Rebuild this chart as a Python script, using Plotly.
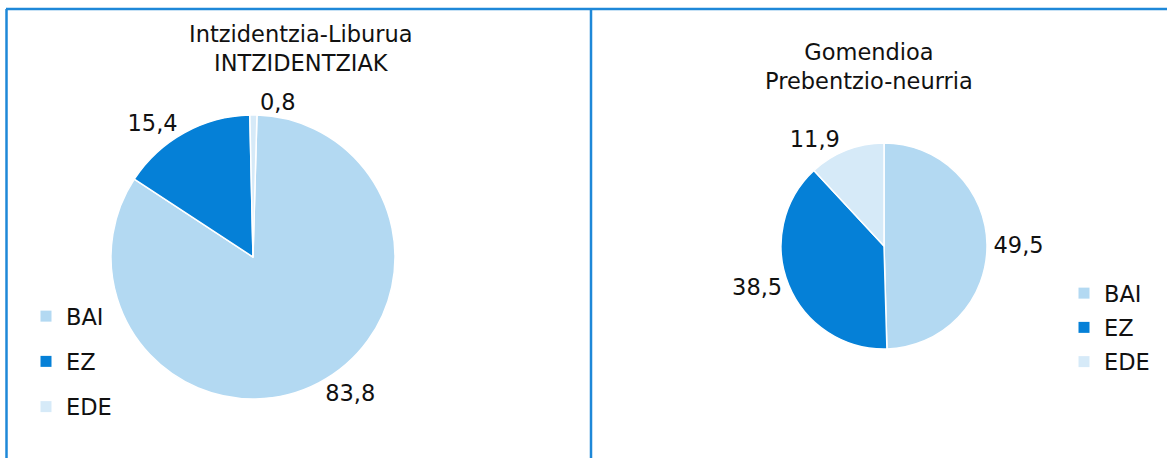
import plotly.graph_objects as go

W, H = 1167, 458

# data
labels = ['BAI', 'EZ', 'EDE']
colors = ['#b3d9f2', '#0580d7', '#d6eaf8']
left_title = ['Intzidentzia-Liburua', 'INTZIDENTZIAK']
left_values = [83.8, 15.4, 0.8]
right_title = ['Gomendioa', 'Prebentzio-neurria']
right_values = [49.5, 38.5, 11.9]

FONT = 'DejaVu Sans'
FS = 22.5
TXT = '#111111'


def px(x):
    return x / W


def py(y):
    return 1 - y / H


def pie(values, cx, cy, r, rot=0):
    return go.Pie(labels=labels, values=values, sort=False, direction='clockwise',
                  rotation=rot, marker=dict(colors=colors, line=dict(color='white', width=1.5)),
                  texttemplate='%{value:.1f}', textposition='outside',
                  textfont=dict(family=FONT, size=FS, color=TXT),
                  hoverinfo='label+value', showlegend=False,
                  domain=dict(x=[px(cx - r), px(cx + r)], y=[py(cy + r), py(cy - r)]))


fig = go.Figure()
fig.add_trace(pie(left_values, 253, 257, 142, rot=1.6))
fig.add_trace(pie(right_values, 884, 246, 103))

# legends as dummy square markers so the spacing can be set
for i, lab in enumerate(labels):
    for leg in ['legend', 'legend2']:
        fig.add_trace(go.Scatter(x=[None], y=[None], mode='markers', name=lab,
                                 legend=leg, legendgroup=leg + lab,
                                 marker=dict(symbol='square', size=11, color=colors[i])))

fig.update_layout(
    width=W, height=H,
    margin=dict(l=0, r=0, t=0, b=0),
    paper_bgcolor='white', plot_bgcolor='white',
    separators=',.',
    font=dict(family=FONT, size=FS, color=TXT),
    xaxis=dict(visible=False), yaxis=dict(visible=False),
    legend=dict(x=px(26), y=py(295), xanchor='left', yanchor='top',
                bgcolor='rgba(0,0,0,0)', tracegroupgap=13,
                font=dict(family=FONT, size=FS, color=TXT)),
    legend2=dict(x=px(1064), y=py(272), xanchor='left', yanchor='top',
                 bgcolor='rgba(0,0,0,0)', tracegroupgap=2,
                 font=dict(family=FONT, size=FS, color=TXT)),
)

fig.add_annotation(x=px(301), y=py(49), xref='paper', yref='paper', showarrow=False,
                   xanchor='center', yanchor='middle',
                   text='<br>'.join(left_title), font=dict(family=FONT, size=FS, color=TXT))
fig.add_annotation(x=px(869), y=py(66), xref='paper', yref='paper', showarrow=False,
                   xanchor='center', yanchor='middle',
                   text='<br>'.join(right_title), font=dict(family=FONT, size=FS, color=TXT))

frame = dict(color='#1e88d8', width=2.5)
fig.add_shape(type='line', xref='paper', yref='paper', x0=px(6), x1=1, y0=py(9), y1=py(9), line=frame)
fig.add_shape(type='line', xref='paper', yref='paper', x0=px(6.5), x1=px(6.5), y0=0, y1=py(9), line=frame)
fig.add_shape(type='line', xref='paper', yref='paper', x0=px(591), x1=px(591), y0=0, y1=py(9), line=frame)

fig.write_html('out.html', config={'displayModeBar': False},
               post_script="document.body.style.margin='0';")
